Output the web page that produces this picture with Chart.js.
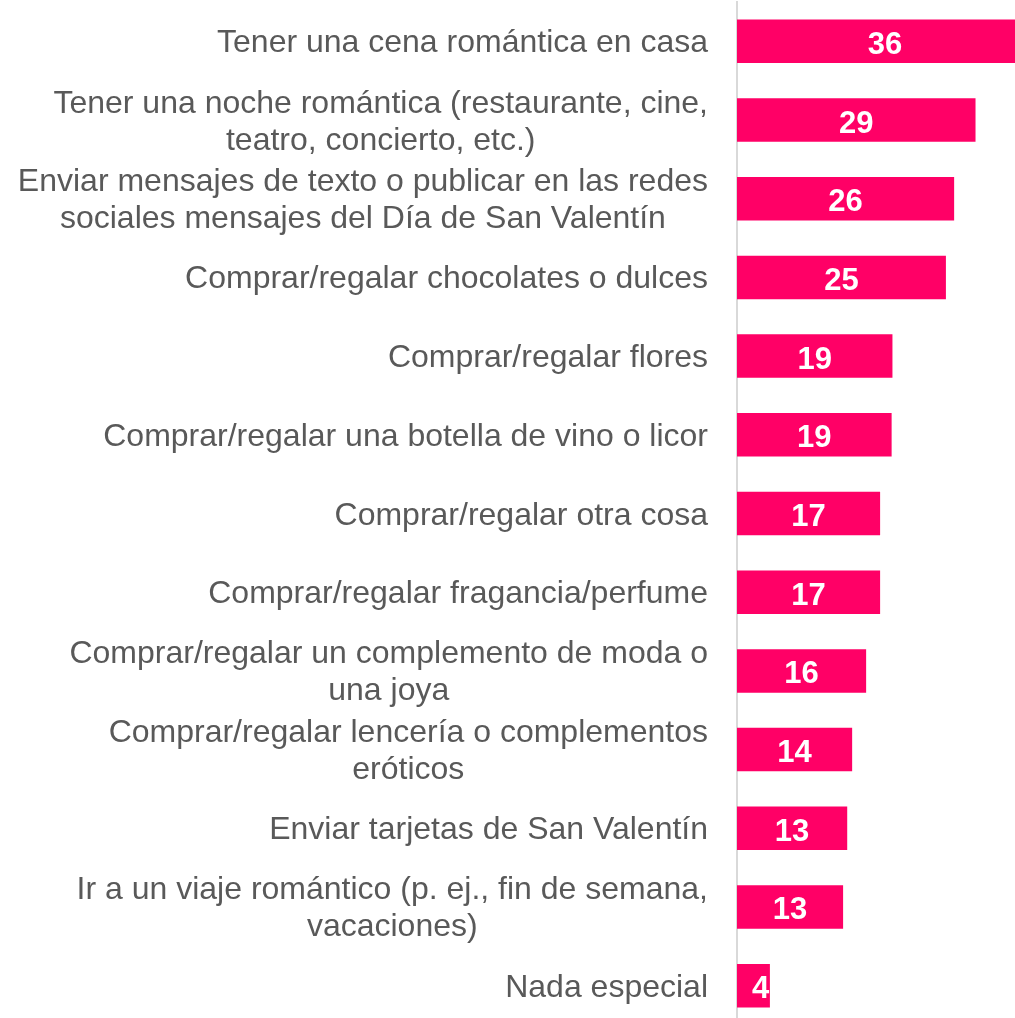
<!DOCTYPE html>
<html>
<head>
<meta charset="utf-8">
<script src="https://cdn.jsdelivr.net/npm/chart.js@4/dist/chart.umd.min.js"></script>
<style>
  html, body { margin: 0; padding: 0; overflow: hidden; background: #fff; }
  #wrap { position: relative; width: 1015px; height: 1026px; }
</style>
</head>
<body>
<div id="wrap"><canvas id="chart"></canvas></div>
<script>
// Data
const categories = [
  ["Tener una cena romántica en casa"],
  ["Tener una noche romántica (restaurante, cine,", "teatro, concierto, etc.)"],
  ["Enviar mensajes de texto o publicar en las redes", "sociales mensajes del Día de San Valentín"],
  ["Comprar/regalar chocolates o dulces"],
  ["Comprar/regalar flores"],
  ["Comprar/regalar una botella de vino o licor"],
  ["Comprar/regalar otra cosa"],
  ["Comprar/regalar fragancia/perfume"],
  ["Comprar/regalar un complemento de moda o", "una joya"],
  ["Comprar/regalar lencería o complementos", "eróticos"],
  ["Enviar tarjetas de San Valentín"],
  ["Ir a un viaje romántico (p. ej., fin de semana,", "vacaciones)"],
  ["Nada especial"],
];
const values = [36, 29, 26.4, 25.4, 18.9, 18.8, 17.4, 17.4, 15.7, 14, 13.4, 12.9, 4];
const axisMax = 33.8;

const PINK = "#FF0066";
const TEXT_GRAY = "#595959";
const FONT = '"Liberation Sans", Arial, sans-serif';

// Category labels: block right-aligned next to the axis, lines centered inside the block
const categoryLabels = {
  id: "categoryLabels",
  afterDraw(chart) {
    const { ctx, chartArea, scales } = chart;
    const lineH = 37;
    ctx.save();
    ctx.font = "32px " + FONT;
    ctx.fillStyle = TEXT_GRAY;
    ctx.textAlign = "center";
    ctx.textBaseline = "alphabetic";
    categories.forEach((lines, i) => {
      const yc = scales.y.getPixelForValue(i);
      const w = Math.max(...lines.map((l) => ctx.measureText(l).width));
      const cx = chartArea.left - 29 - w / 2;
      const first = yc + 11 - ((lines.length - 1) * lineH) / 2;
      lines.forEach((l, j) => ctx.fillText(l, cx, first + j * lineH));
    });
    ctx.restore();
  },
};

// Value labels in the middle of each bar
const valueLabels = {
  id: "valueLabels",
  afterDatasetsDraw(chart) {
    const { ctx } = chart;
    const meta = chart.getDatasetMeta(0);
    ctx.save();
    ctx.font = "bold 31px " + FONT;
    ctx.fillStyle = "#FFFFFF";
    ctx.textAlign = "center";
    ctx.textBaseline = "alphabetic";
    meta.data.forEach((bar, i) => {
      const text = String(Math.round(values[i]));
      const w = ctx.measureText(text).width;
      const x = Math.max((bar.base + bar.x) / 2, bar.base + w / 2 + 15);
      ctx.fillText(text, x, bar.y + 12.5);
    });
    ctx.restore();
  },
};

new Chart(document.getElementById("chart"), {
  type: "bar",
  data: {
    labels: categories,
    datasets: [
      {
        data: values,
        backgroundColor: PINK,
        borderWidth: 0,
        categoryPercentage: 1,
        barPercentage: 0.553,
      },
    ],
  },
  options: {
    indexAxis: "y",
    responsive: true,
    maintainAspectRatio: false,
    animation: false,
    layout: { padding: { left: 737, top: 2, right: 0, bottom: 1 } },
    plugins: {
      legend: { display: false },
      tooltip: { enabled: false },
    },
    scales: {
      x: {
        display: false,
        min: 0,
        max: axisMax,
      },
      y: {
        grid: { display: false, drawTicks: false },
        ticks: { display: false },
        border: { display: true, color: "#D9D9D9", width: 2 },
      },
    },
  },
  plugins: [categoryLabels, valueLabels],
});
</script>
</body>
</html>
